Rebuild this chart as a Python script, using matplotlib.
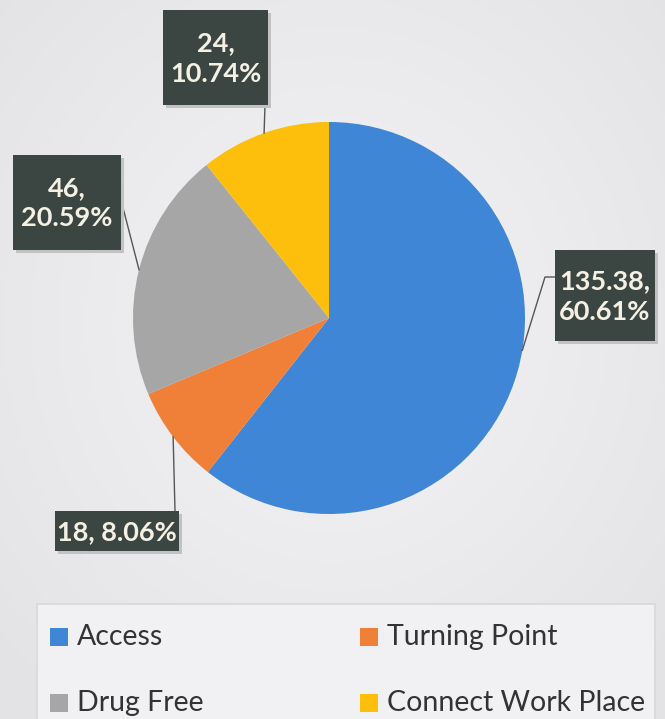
import numpy as np
import matplotlib
matplotlib.use("Agg")
import matplotlib.pyplot as plt
from matplotlib.patches import Rectangle
from matplotlib.colors import LinearSegmentedColormap

# Programme funding split
categories = ["Access", "Turning Point", "Drug Free", "Connect Work Place"]
values = [135.38, 18, 46, 24]
percents = ["60.61%", "8.06%", "20.59%", "10.74%"]
colors = ["#3f86d6", "#f07f38", "#a6a6a6", "#fdbf0c"]

W, H = 665, 719
CX, CY, R = 329, 318, 196

plt.rcParams["font.family"] = ["Lato", "DejaVu Sans"]

fig = plt.figure(figsize=(W / 100, H / 100), dpi=100)
fig.patch.set_facecolor("#ebebed")
ax = fig.add_axes([0, 0, 1, 1])
ax.set_facecolor("none")

# soft radial background, lighter towards the middle
yy, xx = np.mgrid[0:H, 0:W]
dist = np.hypot((xx - W / 2) / (W / 2), (yy - H * 0.45) / (H / 2))
bg_cmap = LinearSegmentedColormap.from_list("bg", ["#f4f4f6", "#e3e3e6"])
ax.imshow(dist, cmap=bg_cmap, extent=(0, W, H, 0), vmin=0, vmax=1.4,
          zorder=0, interpolation="bilinear")

# y runs downward, so startangle -90 is 12 o'clock and ccw in data is clockwise on screen
wedges, _ = ax.pie(values, colors=colors, startangle=-90, counterclock=True,
                   center=(CX, CY), radius=R, frame=True,
                   wedgeprops=dict(linewidth=0, zorder=2))
ax.set_xlim(0, W)
ax.set_ylim(H, 0)
ax.set_aspect("equal")
ax.axis("off")


def edge_point(angle_deg):
    a = np.radians(angle_deg)
    return CX + R * np.sin(a), CY - R * np.cos(a)


# label boxes: (x0, y0, w, h), line break, leader path start, leader edge angle
boxes = {
    "Access": dict(rect=(555, 250, 100, 91), brk=True,
                   path=[(555, 277), (545, 277)], angle=99.5),
    "Turning Point": dict(rect=(55, 511, 124, 40), brk=False,
                          path=[(175, 511)], angle=None),
    "Drug Free": dict(rect=(13, 155, 108, 95), brk=True,
                      path=[(121, 200)], angle=None),
    "Connect Work Place": dict(rect=(163, 10, 105, 95), brk=True,
                               path=[(265, 105)], angle=None),
}

cum = np.cumsum([0] + values) / sum(values) * 360
for i, cat in enumerate(categories):
    b = boxes[cat]
    x0, y0, w, h = b["rect"]
    ang = b["angle"] if b["angle"] is not None else (cum[i] + cum[i + 1]) / 2
    ex, ey = edge_point(ang)
    pts = b["path"] + [(ex, ey)]
    ax.plot([p[0] for p in pts], [p[1] for p in pts], color="#555555", lw=1.0, zorder=3)
    # soft drop shadow then the box
    ax.add_patch(Rectangle((x0 + 3, y0 + 3), w, h, facecolor="#c2c2c4", edgecolor="none", zorder=3))
    ax.add_patch(Rectangle((x0, y0), w, h, facecolor="#3b4541", edgecolor="none", zorder=4))
    val = f"{values[i]:g}"
    sep = ",\n" if b["brk"] else ", "
    ax.text(x0 + w / 2, y0 + h / 2 + 1, f"{val}{sep}{percents[i]}", ha="center", va="center",
            color="#f4f1e4", fontsize=19.5, fontweight="bold", linespacing=1.3, zorder=5)

# legend panel
ax.add_patch(Rectangle((37, 604), 618, 130, facecolor="#f1f1f3", edgecolor="#d8d8da",
                       lw=1.2, zorder=1))
legend_pos = [(50, 637), (360, 637), (50, 703), (360, 703)]
for (lx, ly), cat, col in zip(legend_pos, categories, colors):
    ax.add_patch(Rectangle((lx, ly - 9), 18, 18, facecolor=col, edgecolor="none", zorder=2))
    ax.text(lx + 27, ly, cat, ha="left", va="center", fontsize=20.5, color="#333333", zorder=2)

fig.savefig("out.png", dpi=100, facecolor=fig.get_facecolor())
